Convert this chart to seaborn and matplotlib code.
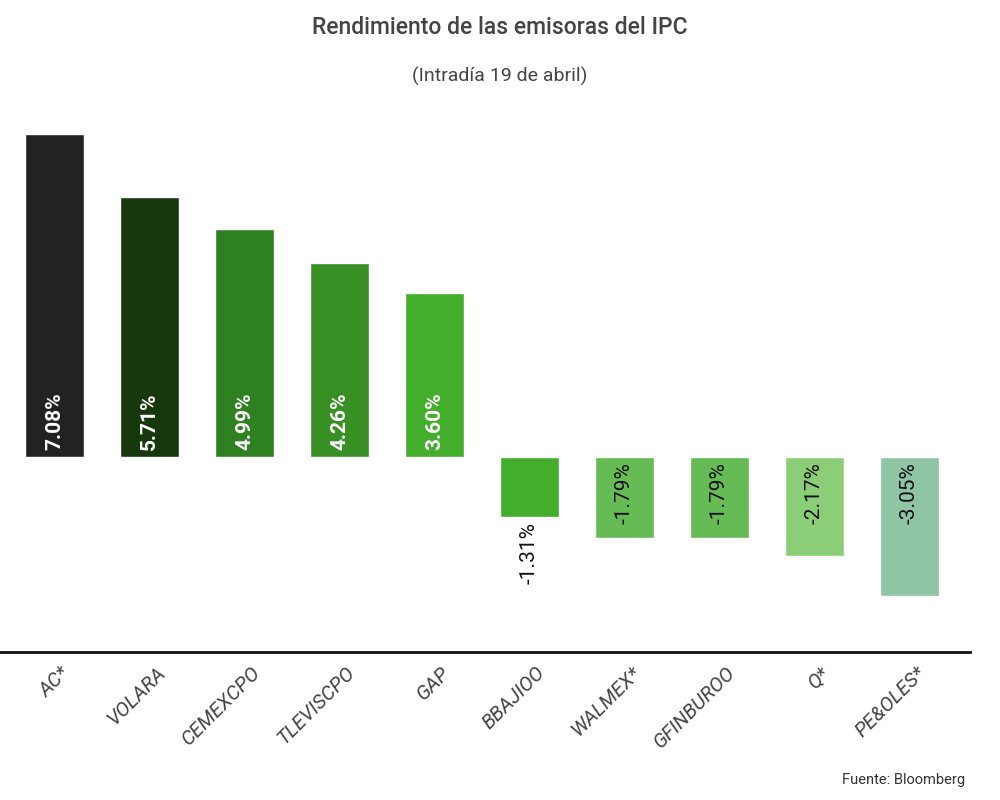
import matplotlib
matplotlib.use("Agg")
import matplotlib.pyplot as plt
import matplotlib.transforms as mtransforms
import seaborn as sns
import pandas as pd

# data
emisoras = ['AC*', 'VOLARA', 'CEMEXCPO', 'TLEVISCPO', 'GAP',
            'BBAJIOO', 'WALMEX*', 'GFINBUROO', 'Q*', 'PE&OLES*']
rendimiento = [7.08, 5.71, 4.99, 4.26, 3.60, -1.31, -1.79, -1.79, -2.17, -3.05]
colores = ['#222222', '#17380c', '#2f8021', '#389024', '#43ae2c',
           '#43ae2c', '#66bb55', '#66bb55', '#8cce78', '#8fc4a5']

df = pd.DataFrame({'emisora': emisoras, 'rendimiento': rendimiento})

sns.set_theme(style='white')
plt.rcParams['font.family'] = ['Roboto', 'DejaVu Sans']

fig = plt.figure(figsize=(10, 8), dpi=100)
ax = fig.add_axes([0.0, 0.185, 0.97, 0.6525])

sns.barplot(data=df, x='emisora', y='rendimiento', hue='emisora',
            palette=colores, legend=False, width=0.62, saturation=1, ax=ax)

ax.set_xlim(-0.574, 9.637)
ax.set_ylim(-4.28, 7.17)

# value labels
for i, v in enumerate(rendimiento):
    txt = f'{v:.2f}%'
    if v > 0:
        ax.text(i, 0.15, txt, rotation=90, ha='center', va='bottom',
                color='white', fontsize=15, fontweight='bold')
    elif v > -1.5:
        # short bar: label goes below it
        ax.text(i, v - 0.12, txt, rotation=90, ha='center', va='top',
                color='#111111', fontsize=15)
    else:
        ax.text(i, -0.12, txt, rotation=90, ha='center', va='top',
                color='#111111', fontsize=15)

for s in ['top', 'right', 'left']:
    ax.spines[s].set_visible(False)
ax.spines['bottom'].set_color('#111111')
ax.spines['bottom'].set_linewidth(2)
ax.set_yticks([])
ax.set_xlabel('')
ax.set_ylabel('')
ax.tick_params(axis='x', length=0, pad=8)

# rotated italic tick labels, nudged a bit to the right
offset = mtransforms.ScaledTranslation(6 / 100, 0, fig.dpi_scale_trans)
for lbl in ax.get_xticklabels():
    lbl.set_rotation(45)
    lbl.set_ha('right')
    lbl.set_rotation_mode('anchor')
    lbl.set_fontstyle('italic')
    lbl.set_fontsize(14.5)
    lbl.set_color('#444444')
    lbl.set_transform(lbl.get_transform() + offset)

fig.text(0.5, 0.965, 'Rendimiento de las emisoras del IPC', ha='center',
         va='center', fontsize=16.5, fontweight='medium', color='#444444')
fig.text(0.5, 0.905, '(Intradía 19 de abril)', ha='center', va='center',
         fontsize=14, color='#444444')
fig.text(0.965, 0.025, 'Fuente: Bloomberg', ha='right', va='center',
         fontsize=10.5, color='#333333')

fig.savefig('out.png', dpi=100)
